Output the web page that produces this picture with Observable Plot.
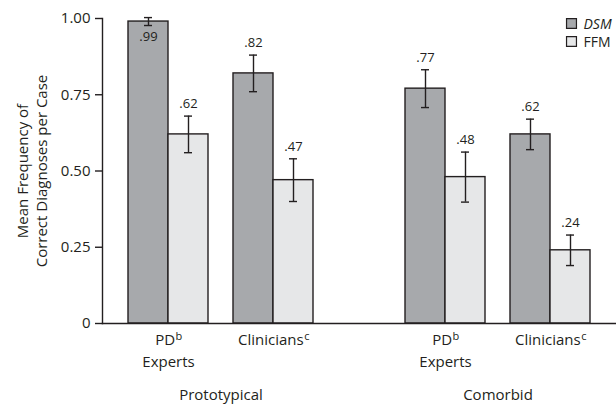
<!DOCTYPE html>
<html>
<head>
<meta charset="utf-8">
<script src="https://cdn.jsdelivr.net/npm/d3@7"></script>
<script src="https://cdn.jsdelivr.net/npm/@observablehq/plot@0.6"></script>
<style>
  html, body { margin: 0; padding: 0; background: #fff; }
  #chart svg { display: block; }
</style>
</head>
<body>
<div id="chart"></div>
<script>
// Mean frequency of correct diagnoses per case, by case type and rater group
const conditions = ["Prototypical", "Comorbid"];
const raters = ["PD Experts", "Clinicians"];
const raterNames = ["PD", "Clinicians"];
const raterSup = ["b", "c"];
const raterSecond = ["Experts", ""];
const series = ["DSM", "FFM"];

// order: Prototypical PD, Prototypical Clinicians, Comorbid PD, Comorbid Clinicians
const dsmMeans = [0.99, 0.82, 0.77, 0.62];
const dsmErr = [0.013, 0.06, 0.062, 0.05];
const ffmMeans = [0.62, 0.47, 0.48, 0.24];
const ffmErr = [0.06, 0.07, 0.082, 0.05];

const yTicks = [0, 0.25, 0.5, 0.75, 1];

const ink = "#231f20";
const font = "Open Sans";
const labelSize = 15;
const supSize = 11;

const rows = conditions.flatMap((cond, i) =>
  raters.flatMap((rater, j) =>
    series.map((s) => {
      const k = i * 2 + j;
      const value = s === "DSM" ? dsmMeans[k] : ffmMeans[k];
      const err = s === "DSM" ? dsmErr[k] : ffmErr[k];
      return {cond, rater, series: s, value, lo: value - err, hi: value + err};
    })
  )
);

const labelRows = conditions.flatMap((cond) =>
  raters.map((rater, j) => ({cond, rater, name: raterNames[j], sup: raterSup[j], second: raterSecond[j]}))
);

const fmtValue = (v) => d3.format(".2f")(v).replace(/^0/, "");

// text widths, used to center a name together with its superscript
const ctx = document.createElement("canvas").getContext("2d");
function textWidth(str, size) {
  ctx.font = `${size}px "${font}"`;
  return ctx.measureText(str).width;
}

// each rater band holds the DSM bar (left half) and the FFM bar (right half)
const bandwidth = 80;
const half = bandwidth / 2;
const cap = 4;
const lineW = 1.4;

const barMarks = series.flatMap((s, i) => {
  const data = rows.filter((d) => d.series === s);
  const off = i === 0 ? -half / 2 : half / 2;
  const capL = i === 0 ? half / 2 - cap : half + half / 2 - cap;
  const capR = bandwidth - capL - 2 * cap;
  return [
    Plot.barY(data, {
      fx: "cond", x: "rater", y: "value", fill: "series",
      stroke: ink, strokeWidth: lineW,
      insetLeft: i === 0 ? 0 : half, insetRight: i === 0 ? half : 0
    }),
    Plot.ruleX(data, {fx: "cond", x: "rater", y1: "lo", y2: "hi", dx: off, stroke: ink, strokeWidth: lineW}),
    Plot.tickY(data, {fx: "cond", x: "rater", y: "lo", insetLeft: capL, insetRight: capR, stroke: ink, strokeWidth: lineW}),
    Plot.tickY(data, {fx: "cond", x: "rater", y: "hi", insetLeft: capL, insetRight: capR, stroke: ink, strokeWidth: lineW}),
    // value labels sit above the error bar, or inside the bar when there is no headroom
    Plot.text(data.filter((d) => d.hi <= 0.97), {
      fx: "cond", x: "rater", y: "hi", text: (d) => fmtValue(d.value),
      dx: off, dy: -8, lineAnchor: "bottom", fontSize: 13, fill: ink
    }),
    Plot.text(data.filter((d) => d.hi > 0.97), {
      fx: "cond", x: "rater", y: "value", text: (d) => fmtValue(d.value),
      dx: off, dy: 19, lineAnchor: "bottom", fontSize: 13, fill: ink
    })
  ];
});

// rater names with a superscript note marker, plus an optional second line
const raterLabelMarks = labelRows.flatMap((row) => {
  const wName = textWidth(row.name, labelSize);
  const wSup = textWidth(row.sup, supSize);
  const nameEnd = (wName + wSup) / 2 - wSup;
  return [
    Plot.text([row], {
      fx: "cond", x: "rater", frameAnchor: "bottom", text: "name", textAnchor: "end",
      lineAnchor: "bottom", fontSize: labelSize, fill: ink, dx: nameEnd, dy: 21
    }),
    Plot.text([row], {
      fx: "cond", x: "rater", frameAnchor: "bottom", text: "sup", textAnchor: "start",
      lineAnchor: "bottom", fontSize: supSize, fill: ink, dx: nameEnd + 0.5, dy: 16
    }),
    Plot.text([row], {
      fx: "cond", x: "rater", frameAnchor: "bottom", text: "second",
      lineAnchor: "bottom", fontSize: labelSize, fill: ink, dy: 43
    })
  ];
});

const legendMarks = series.flatMap((s, i) => [
  Plot.dot([s], {
    facet: "super", frameAnchor: "top-right", symbol: "square", r: 5.6,
    fill: (d) => d, stroke: ink, strokeWidth: 1.2, dx: -45, dy: 5 + i * 18
  }),
  Plot.text([s], {
    facet: "super", frameAnchor: "top-right", text: (d) => d, textAnchor: "start",
    lineAnchor: "bottom", dx: -33, dy: 10 + i * 18, fontSize: 14,
    fontStyle: i === 0 ? "italic" : "normal", fill: ink
  })
]);

const chart = Plot.plot({
  width: 616,
  height: 404,
  marginLeft: 102,
  marginRight: 0,
  marginTop: 18,
  marginBottom: 81,
  style: {fontFamily: font, fontSize: "14px", color: ink, background: "#fff"},
  fx: {domain: conditions, paddingInner: 40 / 277, paddingOuter: 0, axis: null, round: false},
  x: {domain: raters, paddingInner: 25 / 105, paddingOuter: 26 / 105, axis: null, round: false},
  y: {domain: [0, 1], axis: null},
  color: {domain: series, range: ["#a7a9ac", "#e6e7e8"]},
  marks: [
    ...barMarks,
    // baseline and vertical axis line across the whole frame
    Plot.frame({facet: "super", anchor: "bottom", stroke: ink, strokeWidth: lineW}),
    Plot.frame({facet: "super", anchor: "left", stroke: ink, strokeWidth: lineW}),
    Plot.axisY({
      ticks: yTicks, tickSize: 7, tickPadding: 5, label: null, fontSize: 15,
      tickFormat: (d) => (d === 0 ? "0" : d3.format(".2f")(d)), stroke: ink, strokeWidth: lineW, fill: ink
    }),
    ...raterLabelMarks,
    // condition labels
    Plot.text(conditions, {
      fx: (d) => d, frameAnchor: "bottom", text: (d) => d,
      lineAnchor: "bottom", fontSize: labelSize, fill: ink, dy: 76
    }),
    // y-axis title
    Plot.text(["Mean Frequency of\nCorrect Diagnoses per Case"], {
      facet: "super", frameAnchor: "left", text: (d) => d, rotate: -90,
      textAnchor: "middle", lineAnchor: "middle",
      dx: -71, lineHeight: 1.23, fontSize: labelSize, fill: ink
    }),
    ...legendMarks
  ]
});

document.getElementById("chart").appendChild(chart);
</script>
</body>
</html>
